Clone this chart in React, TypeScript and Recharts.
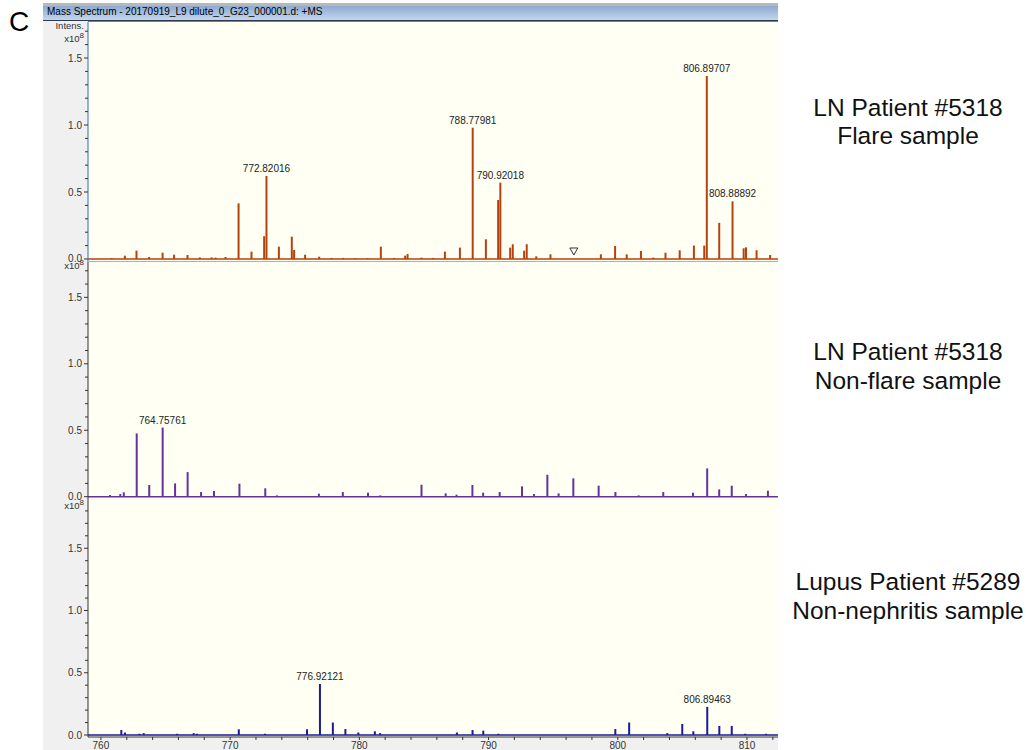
import React from 'react';
import { ComposedChart, Bar, Scatter, XAxis, YAxis, ReferenceLine, LabelList } from 'recharts';

// peaks: m/z and intensity (x10^8)
const flareMz = [
  760.83, 761.86, 762.76, 763.74, 764.78, 765.67, 766.71, 767.66, 768.57, 768.88, 769.65,
  770.66, 771.66, 772.64, 772.82016, 773.78, 774.78, 774.96, 775.81, 776.9, 777.86, 778.75,
  779.71, 780.64, 781.67, 782.7, 783.55, 783.74, 784.82, 785.72, 786.63, 787.79, 788.77981,
  789.8, 790.75, 790.92018, 791.68, 791.88, 792.76, 792.96, 793.7, 794.8, 798.7, 799.8,
  800.7, 801.8, 802.75, 803.7, 804.8, 805.9, 806.7, 806.89707, 807.86, 808.88892, 809.75,
  809.93, 810.75, 811.8,
];
const flareIntensity = [
  0.006, 0.025, 0.062, 0.015, 0.047, 0.032, 0.03, 0.012, 0.012, 0.01, 0.015,
  0.415, 0.055, 0.17, 0.62, 0.092, 0.167, 0.067, 0.032, 0.017, 0.008, 0.008,
  0.006, 0.006, 0.092, 0.008, 0.025, 0.037, 0.01, 0.008, 0.055, 0.085, 0.98,
  0.147, 0.44, 0.57, 0.085, 0.11, 0.062, 0.11, 0.02, 0.035, 0.035, 0.097,
  0.035, 0.06, 0.01, 0.047, 0.065, 0.1, 0.1, 1.366, 0.27, 0.43, 0.08,
  0.087, 0.065, 0.03,
];
const flareLabelled = [772.82016, 788.77981, 790.92018, 806.89707, 808.88892];
const flareMarker = [{ mz: 796.6, intensity: 0.056 }];

const nonFlareMz = [
  760.68, 761.48, 761.75, 762.75, 763.72, 764.75761, 765.72, 766.69, 767.73, 768.73, 770.7,
  772.7, 773.6, 776.85, 778.7, 780.65, 781.6, 784.79, 786.66, 787.5, 788.73, 789.56,
  790.84, 792.57, 793.5, 794.53, 795.4, 796.54, 798.5, 799.8, 801.6, 803.5, 805.8,
  806.9, 807.83, 808.8, 809.9, 811.6,
];
const nonFlareIntensity = [
  0.013, 0.02, 0.033, 0.476, 0.088, 0.52, 0.1, 0.185, 0.035, 0.043, 0.098,
  0.063, 0.01, 0.023, 0.035, 0.03, 0.01, 0.09, 0.025, 0.015, 0.088, 0.03,
  0.035, 0.078, 0.02, 0.165, 0.025, 0.138, 0.083, 0.035, 0.01, 0.035, 0.03,
  0.213, 0.055, 0.083, 0.02, 0.045,
];
const nonFlareLabelled = [764.75761];

const lupusMz = [
  761.55, 761.83, 762.94, 763.28, 765.87, 767.15, 767.4, 770.64, 772.67, 775.92, 776.92121,
  777.92, 778.89, 779.89, 781.17, 781.58, 787.52, 788.73, 789.56, 790.73, 799.78, 800.85,
  803.8, 804.96, 805.82, 806.89463, 807.83, 808.79, 809.83, 811.45,
];
const lupusIntensity = [
  0.04, 0.02, 0.01, 0.015, 0.01, 0.015, 0.01, 0.046, 0.01, 0.046, 0.41,
  0.1, 0.048, 0.02, 0.03, 0.015, 0.02, 0.04, 0.035, 0.01, 0.048, 0.1,
  0.015, 0.089, 0.03, 0.226, 0.073, 0.073, 0.01, 0.01,
];
const lupusLabelled = [776.92121, 806.89463];

const xTicks = [760, 762, 764, 766, 768, 770, 772, 774, 776, 778, 780, 782, 784, 786, 788, 790, 792, 794, 796, 798, 800, 802, 804, 806, 808, 810, 812];
const yTicksUpper = [0, 0.1, 0.2, 0.3, 0.4, 0.5, 0.6, 0.7, 0.8, 0.9, 1.0, 1.1, 1.2, 1.3, 1.4, 1.5, 1.6, 1.7];
const yTicksLower = [...yTicksUpper, 1.8];

const X_DOMAIN: [number, number] = [759.0, 812.4];
const CREAM = '#fffff4';
const FONT = '"Liberation Sans", Arial, sans-serif';

const toData = (mz: number[], intensity: number[], labelled: number[]) =>
  mz.map((m, i) => ({
    mz: m,
    intensity: intensity[i],
    label: labelled.includes(m) ? m.toFixed(5) : undefined,
  }));

const YTick = (props: any) => {
  const { x, y, payload } = props;
  const v = payload.value;
  const major = Math.round(v * 10) % 5 === 0;
  return (
    <g>
      <line x1={x - (major ? 4 : 3)} x2={x} y1={y} y2={y} stroke="#333" />
      {major && (
        <text x={x - 6} y={y + 3.5} textAnchor="end" fontSize={10} fill="#333" fontFamily={FONT}>
          {v.toFixed(1)}
        </text>
      )}
    </g>
  );
};

const XTick = (props: any) => {
  const { x, y, payload } = props;
  return (
    <g>
      <line x1={x} x2={x} y1={y} y2={y + 3} stroke="#333" />
      {payload.value % 10 === 0 && (
        <text x={x} y={y + 12} textAnchor="middle" fontSize={10} fill="#333" fontFamily={FONT}>
          {payload.value}
        </text>
      )}
    </g>
  );
};

const Triangle = (props: any) => {
  const { cx, cy } = props;
  return (
    <path
      d={`M${cx - 4},${cy - 3.5} L${cx + 4},${cy - 3.5} L${cx},${cy + 3.5} Z`}
      fill="#fff"
      stroke="#333"
      strokeWidth={1}
    />
  );
};

interface PanelProps {
  top: number;
  plotHeight: number;
  data: any[];
  color: string;
  yDomain: [number, number];
  yTicks: number[];
  axisColor: string;
  showX?: boolean;
  marker?: any[];
}

const SpectrumPanel = ({ top, plotHeight, data, color, yDomain, yTicks, axisColor, showX, marker }: PanelProps) => {
  const height = plotHeight + (showX ? 13 : 0);
  return (
    <div style={{ position: 'absolute', left: 43, top, width: 735, height }}>
      <div style={{ position: 'absolute', left: 45, top: 0, width: 690, height: plotHeight, background: CREAM }} />
      <div style={{ position: 'absolute', left: 0, top: 0 }}>
        <ComposedChart width={735} height={height} data={data} margin={{ top: 0, right: 0, bottom: 0, left: 0 }}>
          <XAxis
            dataKey="mz"
            type="number"
            domain={X_DOMAIN}
            allowDataOverflow
            hide={!showX}
            ticks={xTicks}
            interval={0}
            height={13}
            tickSize={0}
            tickMargin={0}
            tick={<XTick />}
            tickLine={false}
            axisLine={{ stroke: '#333' }}
          />
          <YAxis
            type="number"
            domain={yDomain}
            allowDataOverflow
            ticks={yTicks}
            interval={0}
            width={45}
            tickSize={0}
            tickMargin={0}
            tick={<YTick />}
            tickLine={false}
            axisLine={{ stroke: axisColor }}
          />
          <ReferenceLine y={0} stroke={color} strokeWidth={1.5} />
          <Bar dataKey="intensity" fill={color} barSize={2} isAnimationActive={false}>
            <LabelList
              dataKey="label"
              position="top"
              offset={4}
              style={{ fontSize: 10, fontFamily: FONT, fill: '#222' }}
            />
          </Bar>
          {marker && (
            <Scatter data={marker} dataKey="intensity" shape={<Triangle />} isAnimationActive={false} />
          )}
        </ComposedChart>
      </div>
    </div>
  );
};

export default function App() {
  const flareData = toData(flareMz, flareIntensity, flareLabelled);
  const nonFlareData = toData(nonFlareMz, nonFlareIntensity, nonFlareLabelled);
  const lupusData = toData(lupusMz, lupusIntensity, lupusLabelled);

  return (
    <div style={{ position: 'absolute', left: 0, top: 0, width: 1026, height: 750, background: '#fff', overflow: 'hidden', fontFamily: FONT }}>
      <style>{'.recharts-surface { overflow: visible; }'}</style>
      {/* window body + title bar */}
      <div style={{ position: 'absolute', left: 43, top: 3, width: 735, height: 747, background: '#f0f0f0' }} />
      <div style={{ position: 'absolute', left: 43, top: 3, width: 735, height: 3, background: '#b8b8b8' }} />
      <div style={{ position: 'absolute', left: 43, top: 6, width: 735, height: 14, background: 'linear-gradient(#8eaad0, #c3d6ec)' }} />
      <div style={{ position: 'absolute', left: 43, top: 20, width: 735, height: 1, background: '#2b3a4c' }} />

      <SpectrumPanel
        top={22}
        plotHeight={240}
        data={flareData}
        color="#b4420f"
        yDomain={[-0.0224, 1.7687]}
        yTicks={yTicksUpper}
        axisColor="#2f6fc0"
        marker={flareMarker}
      />
      <SpectrumPanel
        top={262}
        plotHeight={237}
        data={nonFlareData}
        color="#68309a"
        yDomain={[-0.0173, 1.766]}
        yTicks={yTicksUpper}
        axisColor="#333"
      />
      <SpectrumPanel
        top={499}
        plotHeight={238}
        data={lupusData}
        color="#1a1a9a"
        yDomain={[-0.016, 1.8956]}
        yTicks={yTicksLower}
        axisColor="#333"
        showX
      />

      {/* selected panel frame */}
      <div style={{ position: 'absolute', left: 88, top: 21, width: 690, height: 1, background: '#3c8ee0' }} />
      <div style={{ position: 'absolute', left: 88, top: 261, width: 690, height: 1, background: '#8ab8e8' }} />

      <svg width={1026} height={750} style={{ position: 'absolute', left: 0, top: 0, pointerEvents: 'none' }}>
        <text x={9} y={31} fontSize={28} fontFamily={FONT} fill="#000">C</text>
        <text x={47} y={15} fontSize={10} fontFamily={FONT} fill="#000">
          Mass Spectrum - 20170919_L9 dilute_0_G23_000001.d: +MS
        </text>
        <text x={84} y={29} fontSize={9.5} fontFamily={FONT} fill="#333" textAnchor="end">Intens.</text>
        {[42, 269, 509].map((y) => (
          <text key={y} x={84} y={y} fontSize={9.5} fontFamily={FONT} fill="#333" textAnchor="end">
            x10<tspan dy={-4} fontSize={8}>8</tspan>
          </text>
        ))}
        <g fontFamily={FONT} fontSize={24.5} fill="#111" textAnchor="middle">
          <text x={908} y={116}>LN Patient #5318</text>
          <text x={908} y={144}>Flare sample</text>
          <text x={908} y={360}>LN Patient #5318</text>
          <text x={908} y={389}>Non-flare sample</text>
          <text x={908} y={590}>Lupus Patient #5289</text>
          <text x={908} y={619}>Non-nephritis sample</text>
        </g>
      </svg>
    </div>
  );
}
